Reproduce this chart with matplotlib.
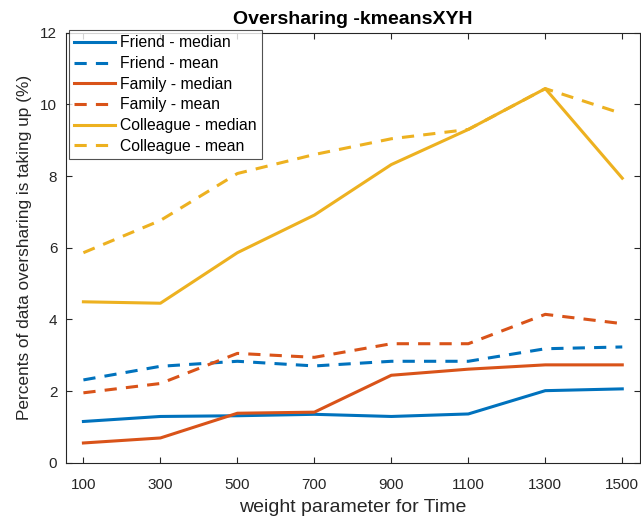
import matplotlib
matplotlib.use("Agg")
import matplotlib.pyplot as plt

plt.rcParams['font.family'] = ['Liberation Sans', 'DejaVu Sans']

##data
weights = [100, 300, 500, 700, 900, 1100, 1300, 1500]
friend_median = [1.15, 1.29, 1.31, 1.35, 1.29, 1.36, 2.01, 2.06]
friend_mean = [2.31, 2.69, 2.83, 2.70, 2.83, 2.83, 3.18, 3.23]
family_median = [0.55, 0.69, 1.38, 1.41, 2.44, 2.61, 2.73, 2.73]
family_mean = [1.95, 2.21, 3.05, 2.94, 3.32, 3.32, 4.14, 3.88]
colleague_median = [4.49, 4.45, 5.86, 6.91, 8.32, 9.30, 10.44, 7.94]
colleague_mean = [5.86, 6.76, 8.07, 8.60, 9.04, 9.30, 10.44, 9.74]

blue = '#0072BD'
orange = '#D95319'
yellow = '#EDB120'

fig = plt.figure(figsize=(6.41, 5.19), dpi=100)
ax = fig.add_axes([0.1025, 0.1085, 0.8965, 0.8285])

ax.plot(weights, friend_median, color=blue, lw=2.2, label='Friend - median')
ax.plot(weights, friend_mean, color=blue, lw=2.2, ls=(0, (4, 3)), label='Friend - mean')
ax.plot(weights, family_median, color=orange, lw=2.2, label='Family - median')
ax.plot(weights, family_mean, color=orange, lw=2.2, ls=(0, (4, 3)), label='Family - mean')
ax.plot(weights, colleague_median, color=yellow, lw=2.2, label='Colleague - median')
ax.plot(weights, colleague_mean, color=yellow, lw=2.2, ls=(0, (4, 3)), label='Colleague - mean')

ax.set_xlim(54, 1547)
ax.set_ylim(0, 12)
ax.set_xticks(weights)
ax.set_yticks(range(0, 13, 2))
ax.tick_params(direction='in', top=True, right=True, labelsize=11, colors='#262626',
               length=4, width=0.8)
ax.tick_params(axis='x', pad=11)
ax.tick_params(axis='y', pad=6)
for s in ax.spines.values():
    s.set_color('#262626')
    s.set_linewidth(0.8)

ax.set_title('Oversharing -kmeansXYH', fontsize=14, fontweight='bold', pad=6)
ax.set_xlabel('weight parameter for Time', fontsize=14, color='#262626', labelpad=5)
ax.set_ylabel('Percents of data oversharing is taking up (%)', fontsize=12.4,
              color='#262626', labelpad=6)

leg = ax.legend(loc='upper left', bbox_to_anchor=(69 / 641, 1 - 30 / 519),
                bbox_transform=fig.transFigure, fontsize=11.3, frameon=True,
                fancybox=False, edgecolor='#262626', handlelength=2.6,
                handletextpad=0.3, borderpad=0.35, labelspacing=0.36, borderaxespad=0)
leg.get_frame().set_linewidth(0.8)

fig.savefig('out.png', dpi=100)
